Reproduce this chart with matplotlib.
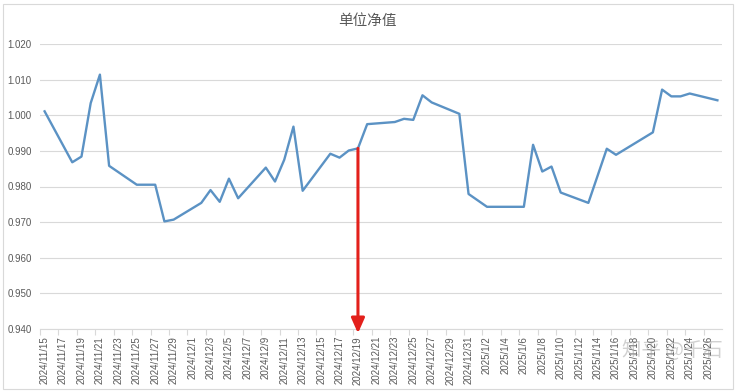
#!/usr/bin/env python3
"""
单位净值 line chart (Excel style) with a red marker arrow.
"""

import matplotlib
matplotlib.use("Agg")
import matplotlib.pyplot as plt
import matplotlib.dates as mdates
import matplotlib.patches as mpatches
import pandas as pd

plt.rcParams['font.family'] = ['Liberation Sans', 'Noto Sans CJK SC', 'DejaVu Sans']

# Data
dates = [
    "2024-11-15", "2024-11-18", "2024-11-19", "2024-11-20", "2024-11-21", "2024-11-22",
    "2024-11-25", "2024-11-26", "2024-11-27", "2024-11-28", "2024-11-29",
    "2024-12-02", "2024-12-03", "2024-12-04", "2024-12-05", "2024-12-06",
    "2024-12-09", "2024-12-10", "2024-12-11", "2024-12-12", "2024-12-13",
    "2024-12-16", "2024-12-17", "2024-12-18", "2024-12-19", "2024-12-20",
    "2024-12-23", "2024-12-24", "2024-12-25", "2024-12-26", "2024-12-27",
    "2024-12-30", "2024-12-31", "2025-01-02", "2025-01-06",
    "2025-01-07", "2025-01-08", "2025-01-09", "2025-01-10",
    "2025-01-13", "2025-01-15", "2025-01-16",
    "2025-01-20", "2025-01-21", "2025-01-22", "2025-01-23", "2025-01-24",
    "2025-01-27",
]
nav = [
    1.0011, 0.9868, 0.9884, 1.0034, 1.0114, 0.9858,
    0.9805, 0.9805, 0.9805, 0.9702, 0.9707,
    0.9754, 0.9790, 0.9757, 0.9822, 0.9767,
    0.9853, 0.9814, 0.9875, 0.9968, 0.9788,
    0.9892, 0.9881, 0.9901, 0.9907, 0.9975,
    0.9981, 0.9990, 0.9987, 1.0056, 1.0036,
    1.0004, 0.9779, 0.9743, 0.9743,
    0.9917, 0.9842, 0.9856, 0.9783,
    0.9754, 0.9906, 0.9889,
    0.9952, 1.0072, 1.0053, 1.0053, 1.0061,
    1.0042,
]
y_ticks = [0.940, 0.950, 0.960, 0.970, 0.980, 0.990, 1.000, 1.010, 1.020]
marked_date = "2024-12-19"

title = "单位净值"
watermark = "知乎 @千石"

LINE = '#5b92c4'
GRID = '#d9d9d9'
TXT = '#595959'
RED = '#e3201b'

x = mdates.date2num(pd.to_datetime(dates))
start = mdates.date2num(pd.Timestamp(dates[0]))
end = mdates.date2num(pd.Timestamp(dates[-1]))

fig = plt.figure(figsize=(7.38, 3.92), dpi=100)
fig.patch.set_facecolor('white')

# chart frame
fig.patches.append(mpatches.Rectangle((3 / 738, 1 - 389 / 392), 730 / 738, 385 / 392,
                                      transform=fig.transFigure, fill=False,
                                      edgecolor=GRID, linewidth=0.8))

ax = fig.add_axes([40 / 738, 1 - 329 / 392, 682 / 738, 285 / 392])
ax.set_facecolor('white')

ax.plot(x, nav, color=LINE, linewidth=1.7, solid_joinstyle='round', zorder=3)

ax.set_xlim(start - 0.5, end + 0.5)
ax.set_ylim(y_ticks[0], y_ticks[-1])

ax.set_yticks(y_ticks)
ax.set_yticklabels([f"{v:.3f}" for v in y_ticks], fontsize=7, color=TXT)
ax.grid(True, axis='y', color=GRID, linewidth=0.8, zorder=0)
ax.tick_params(axis='y', length=0, pad=6)

# date labels every 2 days, tick marks on day boundaries
label_days = pd.date_range(dates[0], dates[-1], freq='2D')
ax.set_xticks(mdates.date2num(label_days))
ax.set_xticklabels([f"{d.year}/{d.month}/{d.day}" for d in label_days],
                   rotation=90, fontsize=7, color=TXT)
ax.set_xticks(mdates.date2num(label_days) - 0.5, minor=True)
ax.tick_params(axis='x', which='major', length=0, pad=5)
ax.tick_params(axis='x', which='minor', length=4, color=GRID, width=0.8)

for s in ['top', 'right', 'left']:
    ax.spines[s].set_visible(False)
ax.spines['bottom'].set_color(GRID)
ax.spines['bottom'].set_linewidth(0.8)

# title
fig.text(367 / 738, 1 - 21 / 392, title, ha='center', va='center',
         fontsize=10.5, color=TXT, family=['Noto Sans CJK SC', 'DejaVu Sans'])

# red arrow from the marked point down to the axis
mi = dates.index(marked_date)
ax.annotate('', xy=(x[mi], y_ticks[0] - 0.0012), xytext=(x[mi], nav[mi]),
            arrowprops=dict(arrowstyle='-|>,head_length=0.9,head_width=0.4',
                            color=RED, linewidth=2.2, shrinkA=0, shrinkB=0),
            annotation_clip=False, zorder=5)

# watermark (overlaps the date labels, as in the original)
fig.text(672 / 738, 1 - 350 / 392, watermark, ha='center', va='center',
         fontsize=14, color='#9a9a9a', alpha=0.45,
         family=['Noto Sans CJK SC', 'DejaVu Sans'])

fig.savefig('out.png', dpi=100, facecolor='white')
